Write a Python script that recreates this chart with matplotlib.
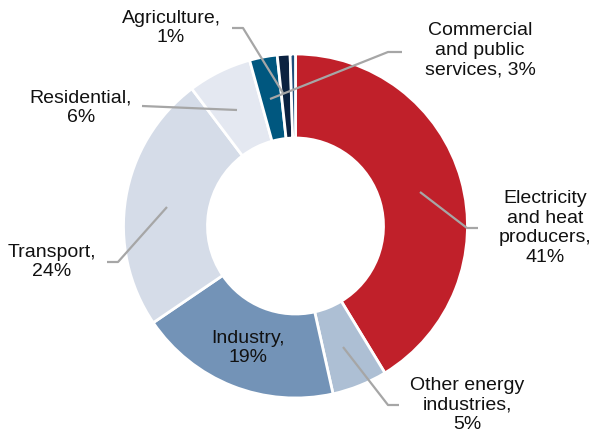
import matplotlib.pyplot as plt

plt.rcParams['font.family'] = ['Liberation Sans', 'DejaVu Sans']

sectores = ['Electricity and heat producers', 'Other energy industries', 'Industry',
            'Transport', 'Residential', 'Commercial and public services',
            'Agriculture', 'Other']
valores = [41.3, 5.2, 19.0, 24.2, 6.0, 2.6, 1.2, 0.5]
cores = ['#C0202A', '#ADBFD4', '#7393B7', '#D5DCE8', '#E4E8F1',
         '#00577F', '#0B2240', '#1F4E7A']

# rótulos: texto, posição do texto, pontos da linha guia (coordenadas de imagem)
rotulos = [
    ('Electricity\nand heat\nproducers,\n41%', (545, 228), [(478, 228), (467, 228), (420, 192)]),
    ('Other energy\nindustries,\n5%', (467, 405), [(399, 405), (388, 405), (343, 347)]),
    ('Industry,\n19%', (248, 348), None),
    ('Transport,\n24%', (52, 262), [(107, 262), (118, 262), (167, 207)]),
    ('Residential,\n6%', (81, 108), [(142, 106), (237, 110)]),
    ('Commercial\nand public\nservices, 3%', (480, 50), [(402, 52), (388, 52), (270, 99)]),
    ('Agriculture,\n1%', (171, 28), [(232, 28), (243, 28), (283, 93)]),
]

W, H = 595, 440
fig = plt.figure(figsize=(W / 100, H / 100), dpi=100)
ax = fig.add_axes([0, 0, 1, 1])

cx, cy, raio = 295.5, H - 226, 172
ax.pie(valores, colors=cores, startangle=90, counterclock=False,
       center=(cx, cy), radius=raio,
       wedgeprops=dict(width=84, edgecolor='white', linewidth=2))

for texto, (tx, ty), linha in rotulos:
    if linha:
        xs = [p[0] for p in linha]
        ys = [H - p[1] for p in linha]
        ax.plot(xs, ys, color='#A6A6A6', linewidth=1.6, solid_capstyle='butt')
    ax.text(tx, H - ty, texto, ha='center', va='center', fontsize=14,
            color='#111111', linespacing=1.22)

ax.set_xlim(0, W)
ax.set_ylim(0, H)
ax.set_aspect('equal')
ax.axis('off')

plt.savefig('out.png', dpi=100)
